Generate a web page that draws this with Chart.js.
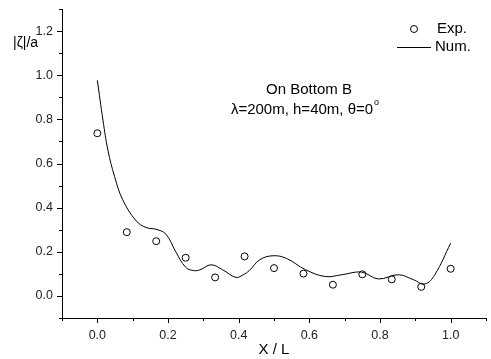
<!DOCTYPE html>
<html>
<head>
<meta charset="utf-8">
<script src="https://cdn.jsdelivr.net/npm/chart.js@4.4.0/dist/chart.umd.min.js"></script>
<style>
  html, body { margin: 0; padding: 0; background: #fff; }
  #wrap { position: relative; width: 491px; height: 359px; }
</style>
</head>
<body>
<div id="wrap"><canvas id="chart" width="491" height="359"></canvas></div>
<script>
// Datos medidos (Exp.)
const expX = [0, 0.0833, 0.1667, 0.25, 0.3333, 0.4167, 0.5, 0.5833, 0.6667, 0.75, 0.8333, 0.9167, 1.0];
const expY = [0.737, 0.289, 0.248, 0.173, 0.084, 0.179, 0.126, 0.101, 0.051, 0.098, 0.075, 0.041, 0.123];

// Curva numérica (Num.)
const numX = [0, 0.016, 0.03, 0.049, 0.072, 0.11, 0.138, 0.166, 0.194, 0.222, 0.25, 0.272, 0.29, 0.322, 0.354, 0.392, 0.412, 0.43, 0.46, 0.497, 0.535, 0.589, 0.645, 0.692, 0.748, 0.795, 0.852, 0.894, 0.927, 0.955, 1.0];
const numY = [0.977, 0.796, 0.66, 0.54, 0.435, 0.34, 0.31, 0.302, 0.28, 0.2, 0.13, 0.115, 0.118, 0.141, 0.119, 0.084, 0.095, 0.115, 0.164, 0.182, 0.17, 0.119, 0.088, 0.096, 0.108, 0.077, 0.096, 0.074, 0.054, 0.096, 0.239];

// Ejes
const xMin = -0.1, xMax = 1.1, xStep = 0.1;
const yMin = -0.1, yMax = 1.3, yStep = 0.1;

const FONT = '"Liberation Sans", Arial, sans-serif';

function isMajor(v) {
  return Math.abs(Math.round(v * 10)) % 2 === 0;
}

// Ticks mayores más largos + textos del gráfico
const extrasPlugin = {
  id: 'extras',
  afterDraw(chart) {
    const ctx = chart.ctx;
    const xs = chart.scales.x;
    const ys = chart.scales.y;
    const area = chart.chartArea;
    ctx.save();
    ctx.strokeStyle = '#000';
    ctx.lineWidth = 1;
    ctx.beginPath();
    xs.ticks.forEach(t => {
      const px = Math.round(xs.getPixelForValue(t.value)) + 0.5;
      const len = isMajor(t.value) ? 5 : 3;
      ctx.moveTo(px, area.bottom);
      ctx.lineTo(px, area.bottom + len);
    });
    ys.ticks.forEach(t => {
      const py = Math.round(ys.getPixelForValue(t.value)) + 0.5;
      const len = isMajor(t.value) ? 5 : 3;
      ctx.moveTo(area.left, py);
      ctx.lineTo(area.left - len, py);
    });
    ctx.stroke();

    ctx.fillStyle = '#000';
    ctx.textBaseline = 'middle';

    // Título del eje Y
    ctx.font = '14px ' + FONT;
    ctx.textAlign = 'left';
    ctx.fillText('|ζ|/a', 13, 43);

    // Leyenda
    ctx.font = '15px ' + FONT;
    ctx.beginPath();
    ctx.arc(414, 29, 3.5, 0, Math.PI * 2);
    ctx.stroke();
    ctx.fillText('Exp.', 437, 29);
    ctx.beginPath();
    ctx.moveTo(397, 47.5);
    ctx.lineTo(431, 47.5);
    ctx.stroke();
    ctx.fillText('Num.', 435, 47);

    // Anotación
    ctx.textAlign = 'center';
    ctx.fillText('On Bottom B', 309, 90);
    ctx.fillText('λ=200m, h=40m, θ=0', 302, 110);
    const w = ctx.measureText('λ=200m, h=40m, θ=0').width;
    ctx.font = '9px ' + FONT;
    ctx.textAlign = 'left';
    ctx.fillText('o', 302 + w / 2 + 1, 103);
    ctx.restore();
  }
};

const ctx = document.getElementById('chart').getContext('2d');
new Chart(ctx, {
  type: 'line',
  data: {
    datasets: [
      {
        label: 'Exp.',
        data: expX.map((x, i) => ({ x: x, y: expY[i] })),
        showLine: false,
        pointStyle: 'circle',
        pointRadius: 3.5,
        pointBorderWidth: 1,
        pointBorderColor: '#000',
        pointBackgroundColor: 'rgba(255,255,255,0)'
      },
      {
        label: 'Num.',
        data: numX.map((x, i) => ({ x: x, y: numY[i] })),
        borderColor: '#000',
        borderWidth: 1,
        pointRadius: 0,
        tension: 0.4,
        fill: false
      }
    ]
  },
  options: {
    responsive: false,
    animation: false,
    events: [],
    layout: {
      padding: { left: 0, right: 3, top: 9, bottom: 0 }
    },
    scales: {
      x: {
        type: 'linear',
        min: xMin,
        max: xMax,
        border: { display: true, color: '#000', width: 1 },
        grid: { display: false, drawTicks: false },
        ticks: {
          stepSize: xStep,
          padding: 10,
          color: '#222',
          font: { family: FONT, size: 12.5 },
          maxRotation: 0,
          autoSkip: false,
          callback: v => isMajor(v) ? v.toFixed(1) : ''
        },
        title: {
          display: true,
          text: 'X / L',
          color: '#000',
          font: { family: FONT, size: 15 },
          padding: { top: -1, bottom: 0 }
        },
        afterFit: s => { s.height = 41; s.paddingLeft = 0; s.paddingRight = 0; }
      },
      y: {
        type: 'linear',
        min: yMin,
        max: yMax,
        border: { display: true, color: '#000', width: 1 },
        grid: { display: false, drawTicks: false },
        ticks: {
          stepSize: yStep,
          padding: 9,
          color: '#222',
          font: { family: FONT, size: 12.5 },
          autoSkip: false,
          callback: v => isMajor(v) ? v.toFixed(1) : ''
        },
        afterFit: s => { s.width = 62; s.paddingTop = 0; s.paddingBottom = 0; }
      }
    },
    plugins: {
      legend: { display: false },
      tooltip: { enabled: false }
    }
  },
  plugins: [extrasPlugin]
});
</script>
</body>
</html>
